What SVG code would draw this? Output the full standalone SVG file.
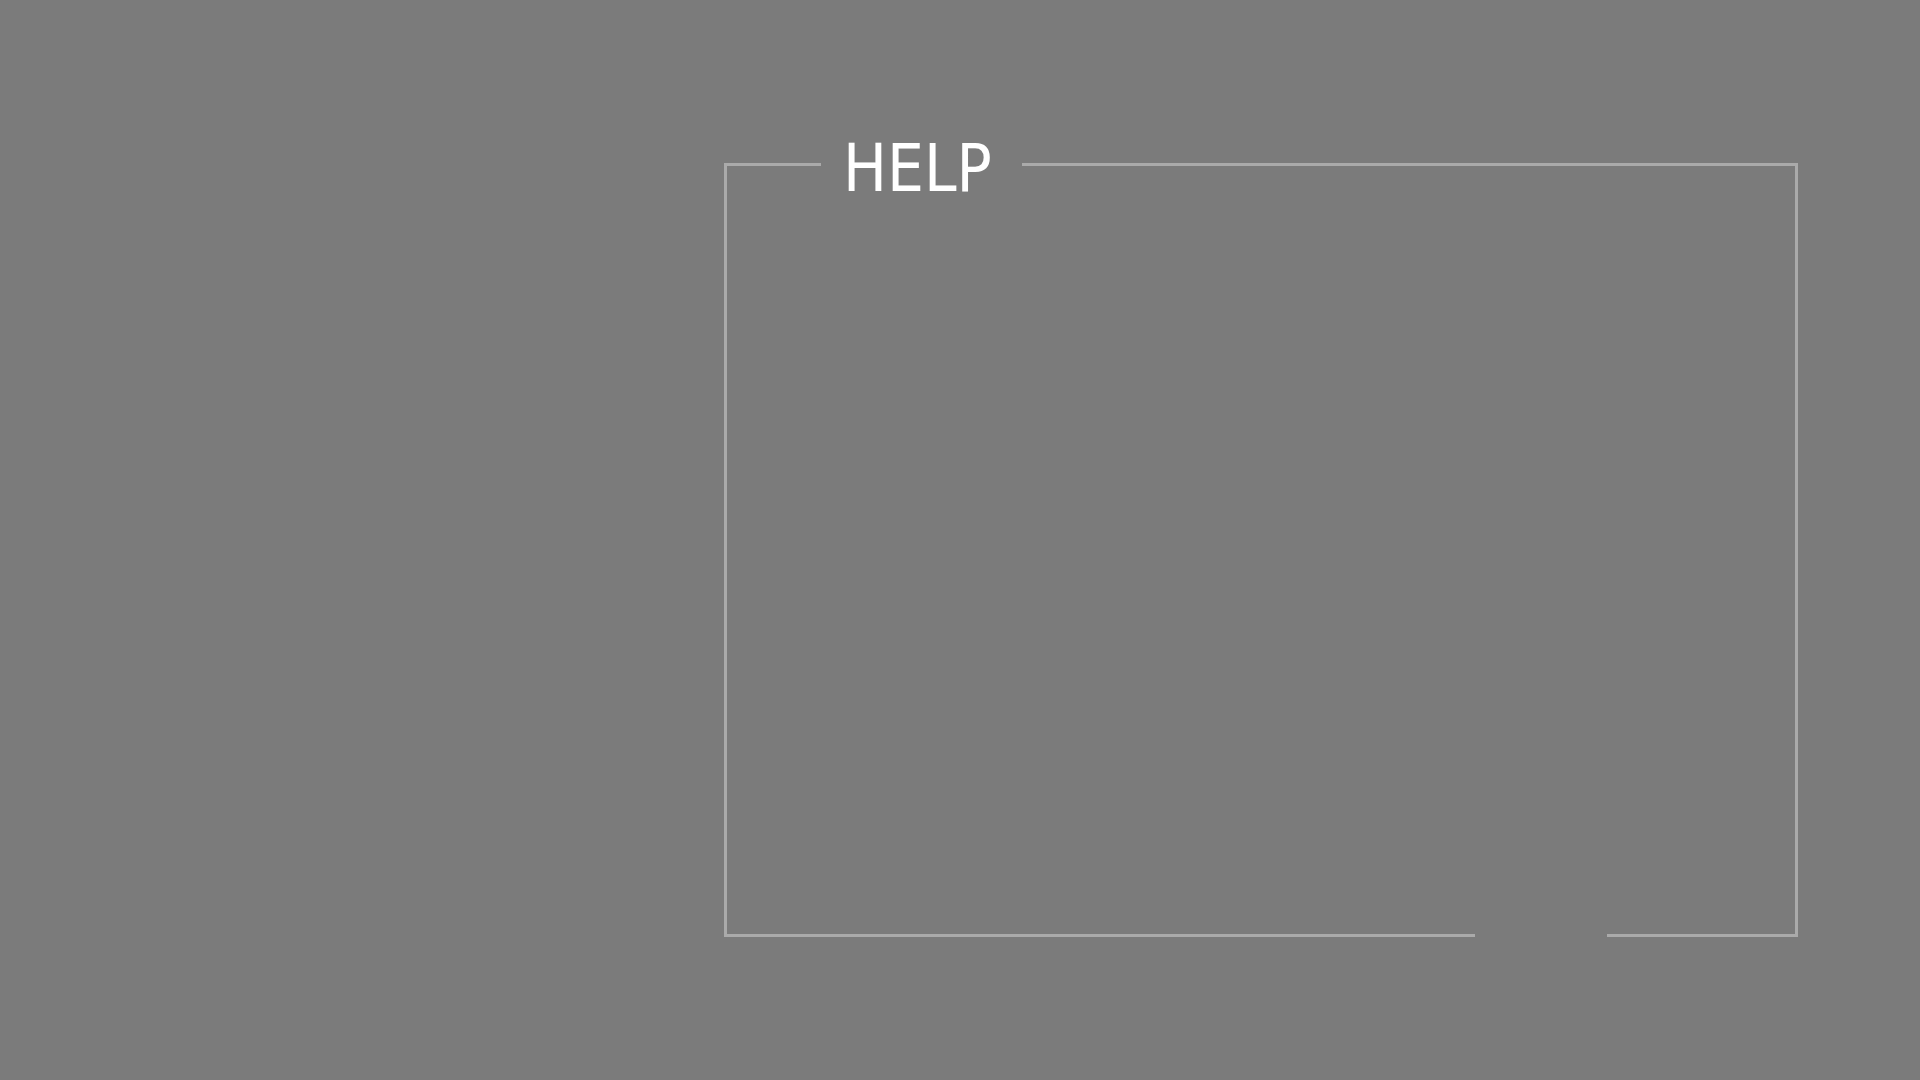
<svg xmlns="http://www.w3.org/2000/svg" width="1920" height="1080" viewBox="0 0 1920 1080">
<style>
.frame{fill:none;stroke:#aaaaaa;stroke-width:3;stroke-linecap:butt}
.title{font-family:"DejaVu Sans Condensed","DejaVu Sans",sans-serif;font-stretch:condensed;font-size:65px;fill:#ffffff}
</style>
<rect width="1920" height="1080" fill="#7b7b7b"/>
<g id="help-frame">
<path class="frame" d="M821 164.5 H725.5 V935.5 H1475 M1607 935.5 H1796.5 V164.5 H1022"/>
<text class="title" x="843" y="190.5">HELP</text>
</g>
</svg>
